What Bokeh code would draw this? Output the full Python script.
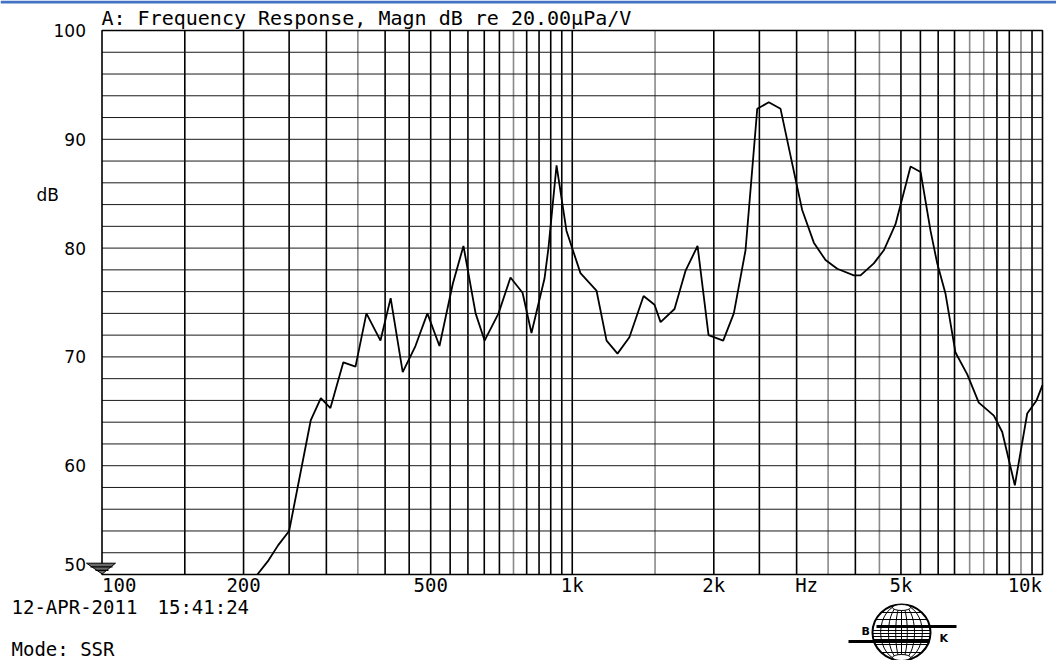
import numpy as np
from bokeh.plotting import figure
from bokeh.models import Range1d
from bokeh.core.properties import value
from bokeh.embed import file_html
from bokeh.resources import INLINE

# ---------------- data ----------------
freq_hz = [214, 226, 237, 250, 278, 292, 306, 326, 346, 365, 391, 411, 436, 464,
           492, 522, 557, 587, 623, 651, 697, 739, 784, 819, 873, 890, 926, 972,
           1041, 1126, 1183, 1248, 1323, 1418, 1496, 1541, 1650, 1741, 1847, 1949,
           2094, 2206, 2336, 2474, 2618, 2773, 3009, 3083, 3264, 3456, 3660, 3970,
           4102, 4378, 4598, 4869, 5241, 5505, 5779, 5972, 6220, 6531, 6918, 7320,
           7880, 8210, 8733, 9279, 9712, 10000]
level_db = [50.0, 51.3, 52.7, 54.0, 64.2, 66.2, 65.3, 69.5, 69.1, 74.0, 71.5, 75.4, 68.6, 71.0,
            74.0, 71.0, 76.7, 80.2, 74.0, 71.5, 74.0, 77.3, 75.9, 72.2, 77.2, 80.0, 87.6, 81.6,
            77.7, 76.1, 71.5, 70.3, 71.8, 75.6, 74.8, 73.2, 74.4, 77.9, 80.2, 72.0,
            71.5, 74.0, 79.8, 92.8, 93.4, 92.8, 85.6, 83.5, 80.5, 78.9, 78.1, 77.5,
            77.5, 78.6, 79.8, 82.2, 87.5, 87.0, 81.6, 78.6, 75.8, 70.4, 68.4, 65.8,
            64.6, 63.1, 58.2, 64.8, 66.0, 67.4]

grid_black_hz = [150, 200, 250, 300, 400, 450, 500, 550, 600, 650, 700, 800, 850, 900,
                 950, 1000, 2000, 2500, 3000, 4000, 5000, 5500, 6000, 6500, 8000, 8500, 9500]
grid_gray_hz = [350, 750, 1500, 3500, 4500, 7000, 7500, 9000]
y_tick_db = [100, 90, 80, 70, 60, 50]
y_tick_text = ["100", "90", "80", "70", "60", "50"]
y_lines_db = list(range(52, 100, 2))
x_tick_hz = [100, 200, 500, 1000, 2000, 3150, 5000, 10000]
x_tick_text = ["100", "200", "500", "1k", "2k", "Hz", "5k", "10k"]

title_text = "A: Frequency Response, Magn dB re 20.00\u00b5Pa/V"
date_text = "12-APR-2011"
time_text = "15:41:24"
mode_text = "Mode: SSR"

X_MIN, X_MAX = 100, 10000
Y_MIN, Y_MAX = 50, 100

# ---------------- geometry (page pixels; canvas sits at page origin) ----------------
W, H = 1056, 660
PAGE_X_LEFT, PAGE_X_RIGHT = 101.5, 1042.0     # x of 100 Hz and 10 kHz
PAGE_Y_TOP, PAGE_Y_BOTTOM = 30.0, 574.0       # y of 100 dB and 50 dB
DEC = (PAGE_X_RIGHT - PAGE_X_LEFT) / np.log10(X_MAX / X_MIN)
PXDB = (PAGE_Y_BOTTOM - PAGE_Y_TOP) / (Y_MAX - Y_MIN)


def fx(X):
    return X_MIN * 10 ** ((X - PAGE_X_LEFT) / DEC)


def fy(Y):
    return Y_MAX - (Y - PAGE_Y_TOP) / PXDB


p = figure(width=W, height=H, x_axis_type="log",
           x_range=Range1d(fx(0), fx(W)), y_range=Range1d(fy(H), fy(0)),
           output_backend="svg", toolbar_location=None, min_border=0,
           x_axis_location=None, y_axis_location=None)
p.grid.visible = False
p.outline_line_color = None
p.background_fill_color = "white"
p.border_fill_color = "white"

# grid lines
p.segment(x0=grid_black_hz, y0=[Y_MIN] * len(grid_black_hz), x1=grid_black_hz,
          y1=[Y_MAX] * len(grid_black_hz), line_color="black", line_width=1.6)
p.segment(x0=grid_gray_hz, y0=[Y_MIN] * len(grid_gray_hz), x1=grid_gray_hz,
          y1=[Y_MAX] * len(grid_gray_hz), line_color="#8a8a8a", line_width=1.6)
p.segment(x0=[X_MIN] * len(y_lines_db), y0=y_lines_db, x1=[X_MAX] * len(y_lines_db),
          y1=y_lines_db, line_color="#1a1a1a", line_width=1.0)
# plot border
p.quad(left=[X_MIN], right=[X_MAX], bottom=[Y_MIN], top=[Y_MAX],
       fill_alpha=0, line_color="black", line_width=1.6)

# curve
p.line(freq_hz, level_db, line_color="black", line_width=1.8)


def text(xs, ys, texts, font="DejaVu Sans Mono", size="19px", align="left", style="normal"):
    p.text(x=xs, y=ys, text=texts, text_font=value(font), text_font_size=value(size),
           text_align=align, text_baseline="middle", text_color="black",
           text_font_style=style)


# x tick labels
xl_y = fy(584)
text([x_tick_hz[0]], [xl_y], [x_tick_text[0]], align="left")
text(x_tick_hz[1:-1], [xl_y] * (len(x_tick_hz) - 2), x_tick_text[1:-1], align="center")
text([fx(1041.5)], [xl_y], [x_tick_text[-1]], align="right")
# y tick labels
yl_x = fx(85.5)
text([yl_x] * 5, y_tick_db[:5], y_tick_text[:5], font="DejaVu Sans", size="17px", align="right")
text([yl_x], [fy(563.5)], [y_tick_text[5]], font="DejaVu Sans", size="17px", align="right")
text([fx(36)], [fy(194)], ["dB"], font="DejaVu Sans", size="17px")

# header / footer texts
text([fx(101)], [fy(17)], [title_text], size="20px")
text([fx(11)], [fy(606.5)], [date_text])
text([fx(157)], [fy(606.5)], [time_text])
text([fx(11)], [fy(648)], [mode_text])

# blue band at the very top
p.quad(left=[fx(0)], right=[fx(W)], bottom=[fy(3)], top=[fy(0)],
       fill_color="#4472c4", line_color=None)

# ground triangle marker at 50 dB
p.patch(x=[fx(86), fx(115), fx(101.7)], y=[fy(562.7), fy(562.7), fy(573.5)],
        fill_color="#6a6a6a", line_color="black", line_width=1)
p.segment(x0=[fx(90), fx(95)], y0=[fy(566.3), fy(569.8)], x1=[fx(112), fx(108)],
          y1=[fy(566.3), fy(569.8)], line_color="black", line_width=1.2)

# B&K globe logo
cx, cy, rx, ry = 901, 632, 29, 28
ks = [1.0, 0.72, 0.45, 0.2]
p.ellipse(x=[fx(cx)], y=[fy(cy)], width=[2 * rx], height=[2 * ry],
          width_units="screen", height_units="screen",
          fill_color="white", line_color="black", line_width=2)
p.ellipse(x=[fx(cx)] * 3, y=[fy(cy)] * 3, width=[2 * rx * k for k in ks[1:]],
          height=[2 * ry] * 3, width_units="screen", height_units="screen",
          fill_alpha=0, line_color="black", line_width=1)
p.segment(x0=[fx(cx)], y0=[fy(cy - ry)], x1=[fx(cx)], y1=[fy(cy + ry)],
          line_color="black", line_width=1)
dys = np.array([-20, -13, -2, 1, 4, 7, 12, 20])
hws = rx * np.sqrt(1 - (dys / ry) ** 2)
p.segment(x0=[fx(cx - h) for h in hws], y0=[fy(cy + d) for d in dys],
          x1=[fx(cx + h) for h in hws], y1=[fy(cy + d) for d in dys],
          line_color="black", line_width=1)
p.ellipse(x=[fx(cx)] * 2, y=[fy(cy - ry + 3), fy(cy + ry - 3)], width=[18, 18], height=[6, 6],
          width_units="screen", height_units="screen",
          fill_color="white", line_color="black", line_width=1)
p.segment(x0=[fx(cx - rx + 4), fx(848)], y0=[fy(cy - 6), fy(cy + 9)],
          x1=[fx(956), fx(cx + rx - 1)], y1=[fy(cy - 6), fy(cy + 9)],
          line_color="black", line_width=3)
text([fx(861)], [fy(cy - 1)], ["B"], font="DejaVu Sans", size="11px", style="bold")
text([fx(939)], [fy(cy + 6)], ["K"], font="DejaVu Sans", size="11px", style="bold")

open("out.html", "w").write(file_html(p, INLINE))
